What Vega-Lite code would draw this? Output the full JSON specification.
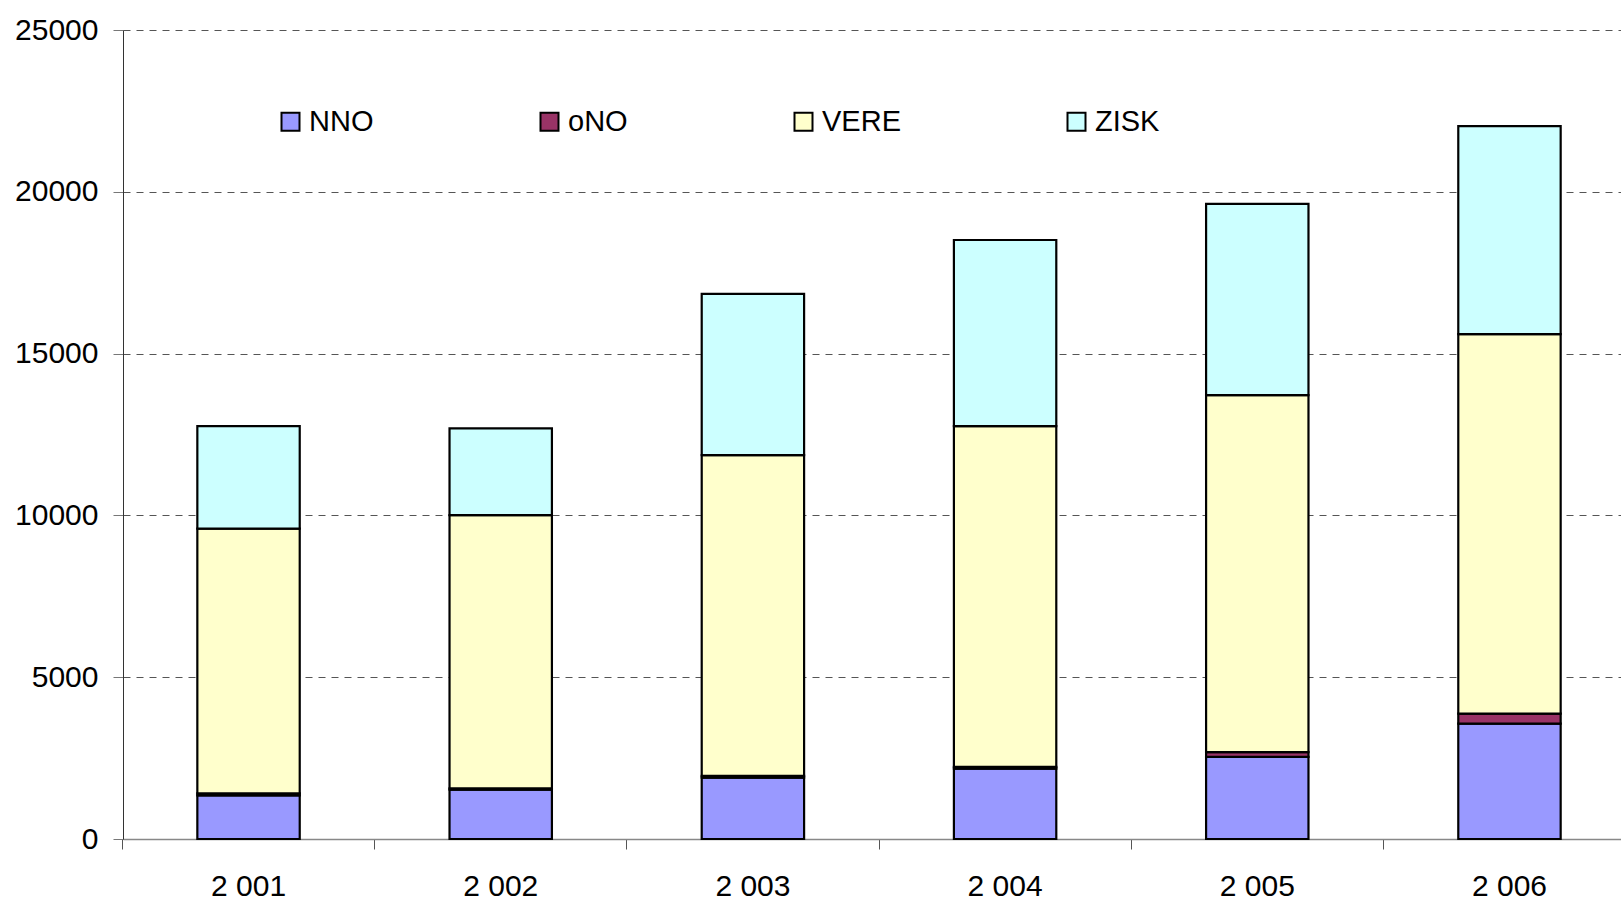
{
  "$schema": "https://vega.github.io/schema/vega-lite/v6.json",
  "width": 1498,
  "height": 809,
  "autosize": {"type": "none"},
  "padding": {"left": 123, "top": 30, "right": 0, "bottom": 59},
  "background": "white",
  "config": {
    "view": {"stroke": null},
    "font": "Liberation Sans"
  },
  "data": {
    "values": [
      {"rok": "2 001", "s": "NNO", "v": 1350},
      {"rok": "2 001", "s": "oNO", "v": 60},
      {"rok": "2 001", "s": "VERE", "v": 8180},
      {"rok": "2 001", "s": "ZISK", "v": 3166},
      {"rok": "2 002", "s": "NNO", "v": 1527},
      {"rok": "2 002", "s": "oNO", "v": 40},
      {"rok": "2 002", "s": "VERE", "v": 8439},
      {"rok": "2 002", "s": "ZISK", "v": 2686},
      {"rok": "2 003", "s": "NNO", "v": 1898},
      {"rok": "2 003", "s": "oNO", "v": 50},
      {"rok": "2 003", "s": "VERE", "v": 9912},
      {"rok": "2 003", "s": "ZISK", "v": 4988},
      {"rok": "2 004", "s": "NNO", "v": 2176},
      {"rok": "2 004", "s": "oNO", "v": 50},
      {"rok": "2 004", "s": "VERE", "v": 10530},
      {"rok": "2 004", "s": "ZISK", "v": 5754},
      {"rok": "2 005", "s": "NNO", "v": 2535},
      {"rok": "2 005", "s": "oNO", "v": 150},
      {"rok": "2 005", "s": "VERE", "v": 11030},
      {"rok": "2 005", "s": "ZISK", "v": 5914},
      {"rok": "2 006", "s": "NNO", "v": 3567},
      {"rok": "2 006", "s": "oNO", "v": 310},
      {"rok": "2 006", "s": "VERE", "v": 11724},
      {"rok": "2 006", "s": "ZISK", "v": 6426}
    ]
  },
  "transform": [
    {"calculate": "indexof(['NNO','oNO','VERE','ZISK'], datum.s)", "as": "poradi"}
  ],
  "mark": {"type": "bar", "stroke": "black", "strokeWidth": 2.2},
  "encoding": {
    "x": {
      "field": "rok",
      "type": "nominal",
      "scale": {"paddingInner": 0.594, "paddingOuter": 0.267, "align": 0.552},
      "axis": {
        "title": null,
        "labelAngle": 0,
        "bandPosition": -0.7315,
        "labelFontSize": 30,
        "labelColor": "black",
        "labelPadding": 22,
        "labelBaseline": "top",
        "tickSize": 10,
        "tickColor": "#555555",
        "tickWidth": 1,
        "domainColor": "#888888",
        "domainWidth": 1.5,
        "grid": false
      }
    },
    "y": {
      "field": "v",
      "type": "quantitative",
      "stack": "zero",
      "scale": {"domain": [0, 25000], "nice": false},
      "axis": {
        "title": null,
        "values": [0, 5000, 10000, 15000, 20000, 25000],
        "format": "d",
        "labelFontSize": 30,
        "labelColor": "black",
        "labelPadding": 15,
        "tickSize": 10,
        "tickColor": "#777777",
        "domainColor": "#333333",
        "domainWidth": 1,
        "grid": true,
        "gridColor": "#555555",
        "gridDash": [7, 6],
        "gridWidth": 1
      }
    },
    "color": {
      "field": "s",
      "type": "nominal",
      "scale": {
        "domain": ["NNO", "oNO", "VERE", "ZISK"],
        "range": ["#9999FF", "#993366", "#FFFFCC", "#CCFFFF"]
      },
      "legend": {
        "title": null,
        "orient": "none",
        "legendX": 153,
        "legendY": 77,
        "direction": "horizontal",
        "columns": 4,
        "columnPadding": 161,
        "padding": 0,
        "symbolType": "square",
        "symbolSize": 324,
        "symbolStrokeColor": "black",
        "symbolStrokeWidth": 2,
        "symbolOpacity": 1,
        "labelFontSize": 29,
        "labelColor": "black",
        "labelOffset": 4
      }
    },
    "order": {"field": "poradi", "sort": "ascending"}
  }
}
